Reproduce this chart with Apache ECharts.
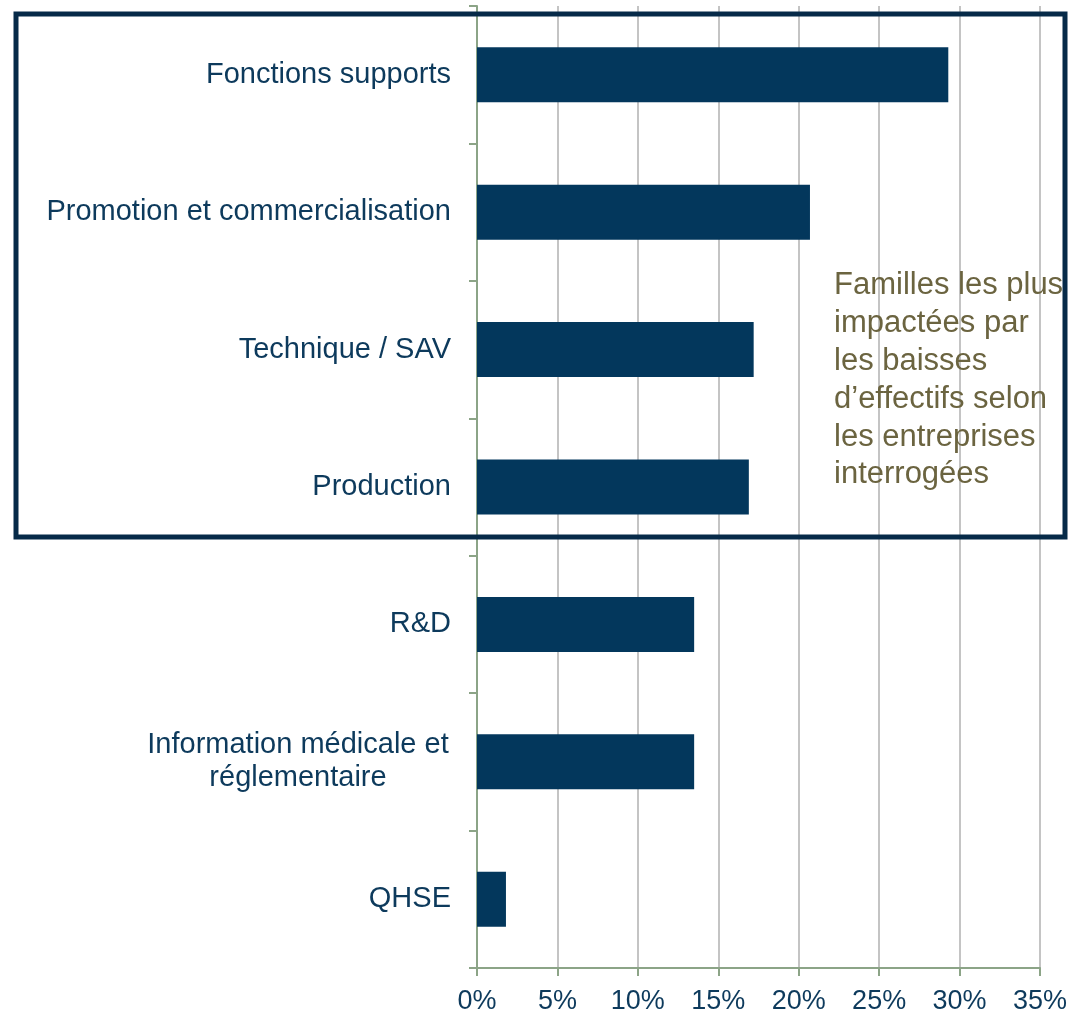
<!DOCTYPE html>
<html>
<head>
<meta charset="utf-8">
<script src="https://cdn.jsdelivr.net/npm/echarts@6/dist/echarts.min.js"></script>
<style>
  html, body { margin: 0; padding: 0; background: #fff; }
  #chart { width: 1070px; height: 1015px; }
</style>
</head>
<body>
<div id="chart"></div>
<script>
const categories = [
  "Fonctions supports",
  "Promotion et commercialisation",
  "Technique / SAV",
  "Production",
  "R&D",
  "Information médicale et\nréglementaire",
  "QHSE"
];
const values = [29.3, 20.7, 17.2, 16.9, 13.5, 13.5, 1.8];
const tickLabels = ["0%", "5%", "10%", "15%", "20%", "25%", "30%", "35%"];
const note = "Familles les plus\nimpactées par\nles baisses\nd’effectifs selon\nles entreprises\ninterrogées";

const chart = echarts.init(document.getElementById("chart"));
const axisColor = "#8ca487";
const font = "Liberation Sans, Arial, sans-serif";
const option = {
  animation: false,
  grid: { left: 477, right: 30, top: 6, bottom: 47, containLabel: false },
  xAxis: {
    type: "value",
    min: 0,
    max: 35,
    interval: 5,
    axisLine: { show: true, lineStyle: { color: axisColor, width: 2 } },
    axisTick: { show: true, length: 8, lineStyle: { color: axisColor, width: 2 } },
    splitLine: { show: true, lineStyle: { color: "#c4c4c4", width: 2 } },
    axisLabel: {
      margin: 20,
      color: "#0d3a5c",
      fontSize: 27,
      fontFamily: font,
      formatter: function (v) { return tickLabels[Math.round(v / 5)]; }
    }
  },
  yAxis: {
    type: "category",
    inverse: true,
    data: categories,
    axisLine: { show: true, lineStyle: { color: axisColor, width: 2 } },
    axisTick: { show: true, length: 8, lineStyle: { color: axisColor, width: 2 } },
    splitLine: { show: false },
    axisLabel: {
      margin: 26,
      color: "#0d3a5c",
      fontSize: 29,
      lineHeight: 33,
      fontFamily: font,
      formatter: function (value) {
        if (value.indexOf("\n") >= 0) {
          return value.split("\n").map(function (s) { return "{c|" + s + "}"; }).join("\n");
        }
        return value;
      },
      rich: {
        c: { width: 306, align: "center", fontSize: 29, lineHeight: 33, color: "#0d3a5c",
             fontFamily: font }
      }
    }
  },
  series: [
    {
      type: "bar",
      data: values,
      barWidth: 55,
      itemStyle: { color: "#03375c" }
    }
  ],
  graphic: [
    {
      type: "rect",
      shape: { x: 16, y: 14, width: 1049, height: 523 },
      style: { fill: "none", stroke: "#062a48", lineWidth: 5 },
      z: 100
    },
    {
      type: "text",
      left: 834,
      top: 267,
      style: {
        text: note,
        fill: "#6b6440",
        fontSize: 31,
        lineHeight: 37.8,
        fontFamily: font
      },
      z: 100
    }
  ]
};
chart.setOption(option);
window.addEventListener("resize", function () { chart.resize(); });
</script>
</body>
</html>
